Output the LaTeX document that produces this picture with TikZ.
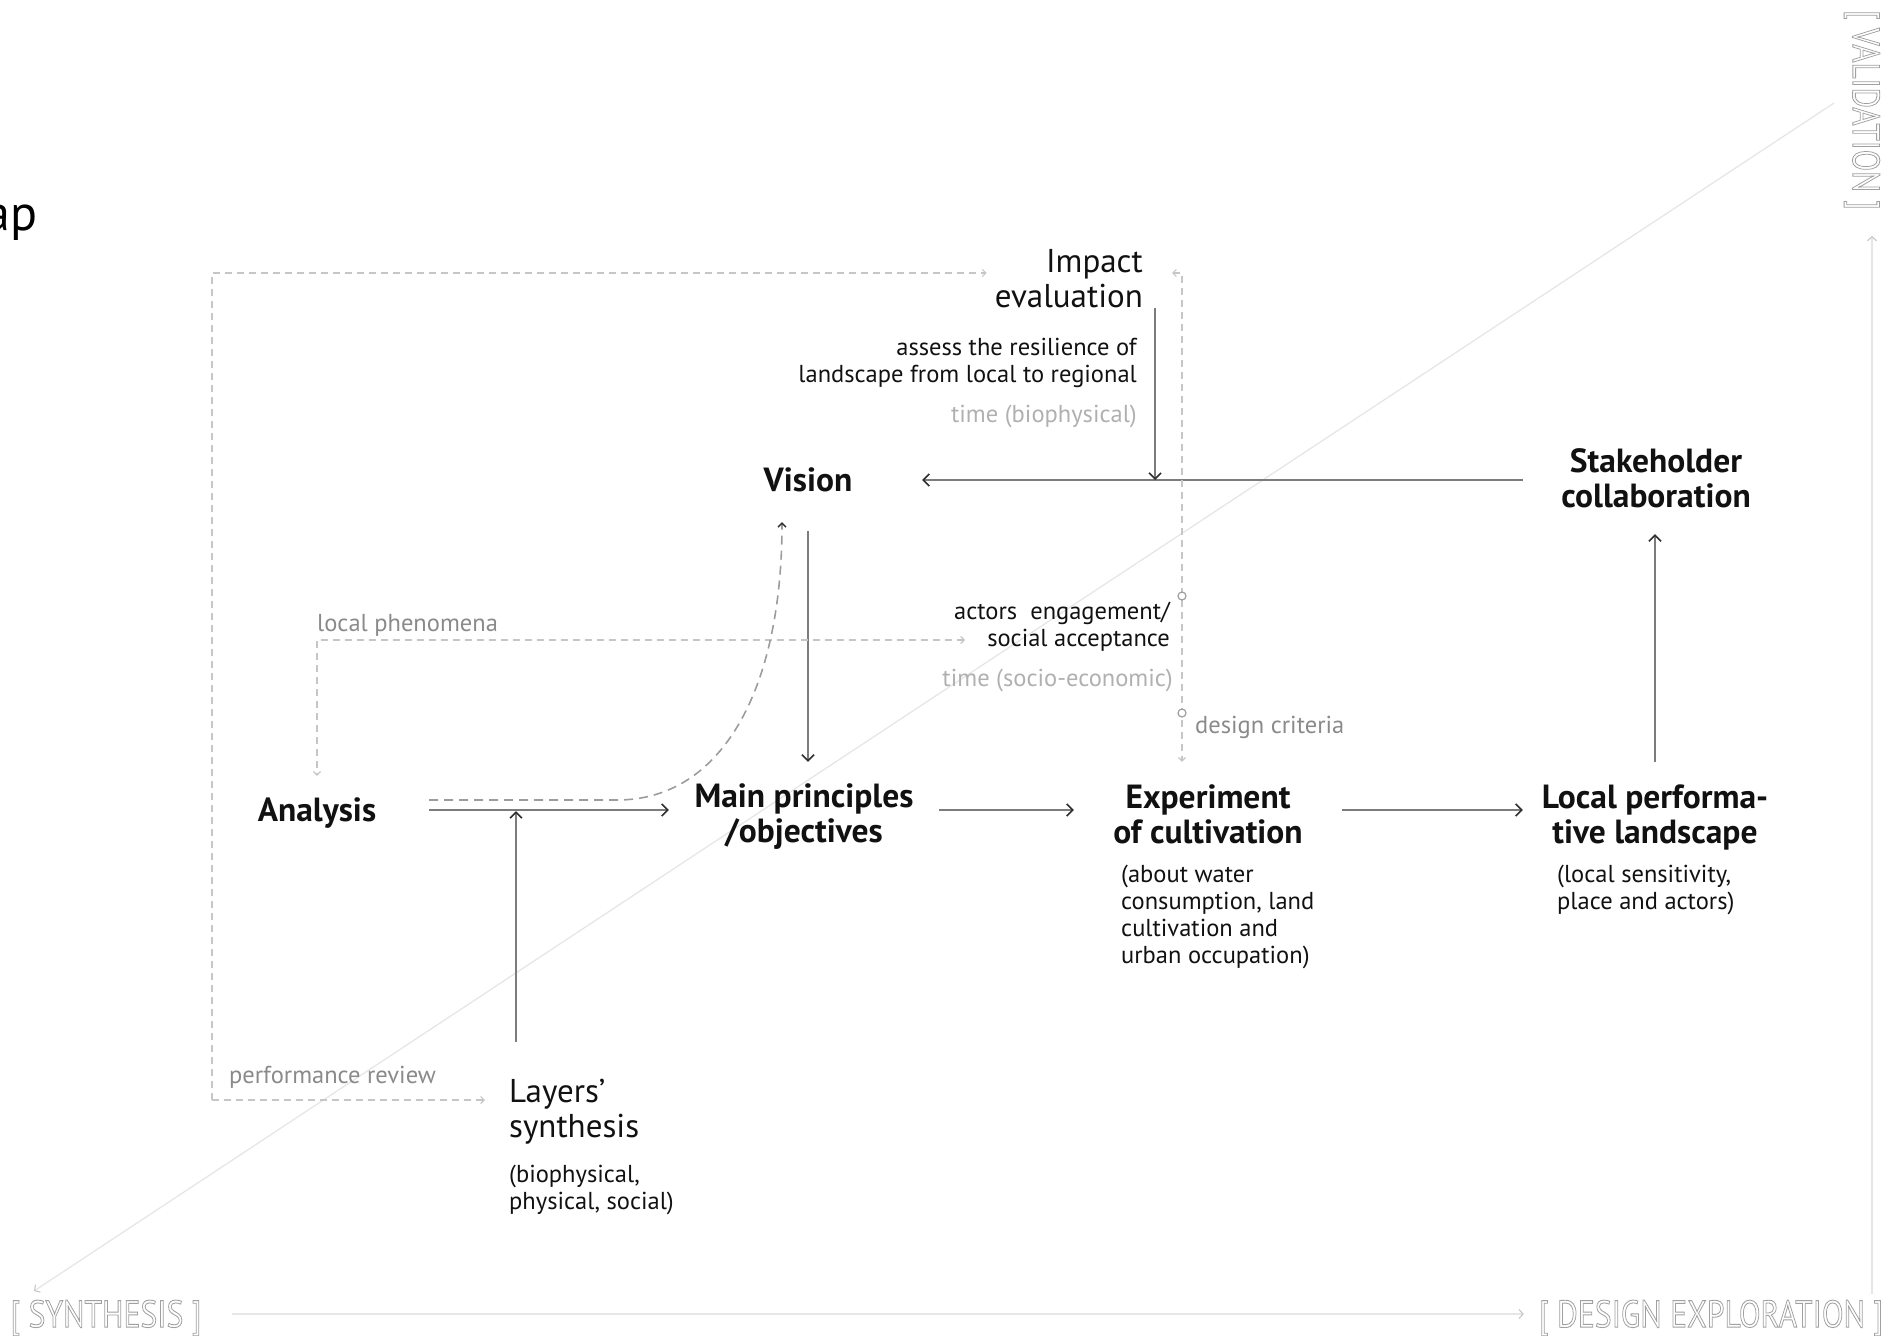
\documentclass[tikz,border=0pt]{standalone}
\usepackage{fontspec}
\usepackage{graphicx}
\setmainfont{PT Sans}
\usetikzlibrary{arrows.meta,calc}

\definecolor{ink}{HTML}{111111}
\definecolor{linegray}{HTML}{7C7C7C}
\definecolor{tipgray}{HTML}{2E2E2E}
\definecolor{dashgray}{HTML}{C6C6C6}
\definecolor{curvegray}{HTML}{9C9C9C}
\definecolor{labelgray}{HTML}{8A8A8A}
\definecolor{timegray}{HTML}{B0B0B0}
\definecolor{axisgray}{HTML}{E6E6E6}
\definecolor{stampgray}{HTML}{A0A0A0}

% outlined (stroke-only) lettering for the axis labels
\newcommand{\hollowtext}[1]{\special{pdf:literal direct 1 Tr 0.9 w}#1\special{pdf:literal direct 0 Tr}}

\begin{document}
\begin{tikzpicture}[x=1pt,y=-1pt,
  head/.style={font=\fontsize{33.5}{35}\selectfont\bfseries, text=ink, align=center, inner sep=0pt},
  plain/.style={font=\fontsize{33}{35}\selectfont, text=ink, inner sep=0pt},
  note/.style={font=\fontsize{24.5}{26.8}\selectfont, text=ink, inner sep=0pt},
  graynote/.style={note, text=labelgray},
  timenote/.style={note, text=timegray},
  stamp/.style={font=\fontsize{38}{38}\selectfont, text=stampgray, inner sep=0pt},
  flow/.style={draw=linegray, line width=2pt,
    -{Straight Barb[length=6pt,width=12pt,line width=1.6pt,color=tipgray]}},
  loopline/.style={draw=dashgray, line width=1.6pt, dash pattern=on 7pt off 5pt},
  looptip/.style={-{Straight Barb[length=3.5pt,width=7pt,line width=1.2pt]}},
  curveline/.style={draw=curvegray, line width=1.6pt, dash pattern=on 9pt off 6pt,
    -{Straight Barb[length=4pt,width=8pt,line width=1.3pt,color=tipgray]}},
  axis/.style={draw=axisgray, line width=1.3pt,
    -{Straight Barb[length=4pt,width=9pt,line width=1.1pt,color=black!22]}},
  knot/.style={draw=dashgray!80!black, fill=white, line width=1.2pt}
]
\useasboundingbox (0,0) rectangle (1896,1336);
\clip (0,0) rectangle (1896,1336);

% ---------- background axes ----------
\coordinate (diagTop) at (1834,103);
\coordinate (diagEnd) at (34,1291);
\draw[axis] (diagTop) -- (diagEnd);
\node[stamp] (syn) at (106,1318) {\scalebox{0.835}[1]{\hollowtext{[ SYNTHESIS ]}}};
\node[stamp] (dex) at (1711,1318) {\scalebox{0.835}[1]{\hollowtext{[ DESIGN EXPLORATION ]}}};
\node[stamp, rotate=-90] (val) at (1862,110) {\scalebox{0.82}[1]{\hollowtext{[ VALIDATION ]}}};
\draw[axis] ([xshift=30pt,yshift=4pt]syn.east) -- ([xshift=-15pt,yshift=4pt]dex.west);
\coordinate (vBot) at (1872,1294);
\coordinate (vTop) at (1872,236);
\draw[axis] (vBot) -- (vTop);

% ---------- title fragment ----------
\node[font=\fontsize{50}{50}\selectfont, text=black, anchor=base east, inner sep=0pt] (title) at (38,230) {ap};

% ---------- main nodes ----------
\node[head, minimum width=228pt, minimum height=102pt] (vis) at (808,480) {Vision};
\node[head, minimum width=266pt, minimum height=112pt] (stk) at (1656,478) {Stakeholder\\collaboration};
\node[head, minimum width=224pt, minimum height=74pt] (ana) at (317,813) {Analysis};
\node[head, minimum width=270pt, minimum height=110pt] (main) at (804,817) {Main principles\\/objectives};
\node[head, minimum width=268pt, minimum height=104pt] (exp) at (1208,814) {Experiment\\of cultivation};
\node[head, minimum width=264pt, minimum height=110pt] (loc) at (1655,817) {Local performa-\\tive landscape};

\node[plain, align=right, anchor=north east] (imp) at (1143,249) {Impact\\evaluation};
\node[plain, align=left, anchor=north west] (lay) at (509,1079) {Layers’\\synthesis};

% ---------- notes ----------
\node[note, align=right, anchor=north east] (assess) at (1137,338) {assess the resilience of\\landscape from local to regional};
\node[timenote, anchor=base east] (tbio) at (1137,422) {time (biophysical)};
\node[note, align=right, anchor=north east] (act) at (1170,602) {actors\ \ engagement/\\social acceptance};
\node[timenote, anchor=base east] (tsoc) at (1173,686) {time (socio-economic)};
\node[graynote, anchor=base west] (crit) at (1195,733) {design criteria};
\node[graynote, anchor=base west] (phenl) at (317,631) {local phenomena};
\node[graynote, anchor=base west] (perf) at (229,1083) {performance review};

\node[note, align=left, anchor=north west, font=\fontsize{24.5}{27}\selectfont] (expnote) at (1121,865) {(about water\\consumption, land\\cultivation and\\urban occupation)};
\node[note, align=left, anchor=north west] (locnote) at (1557,865) {(local sensitivity,\\place and actors)};
\node[note, align=left, anchor=north west] (laynote) at (509,1165) {(biophysical,\\physical, social)};

% ---------- solid flow ----------
\coordinate (flowL) at ([yshift=3pt]ana.east);
\draw[flow] (flowL) -- (flowL -| main.west);
\draw[flow] (flowL -| main.east) -- (flowL -| exp.west);
\draw[flow] (flowL -| exp.east) -- (flowL -| loc.west);
\draw[flow] (loc.north) -- (loc.north |- stk.south);
\draw[flow] (vis.east -| stk.west) -- (vis.east);
\draw[flow] (vis.south) -- (vis.south |- main.north);
\draw[flow] ([xshift=12pt]imp.south east) -- ([xshift=12pt]imp.south east |- vis.east);
\draw[flow, shorten >=-1pt] ([xshift=7pt,yshift=37pt]lay.north west) -- ([xshift=7pt,yshift=-2pt]lay.north west |- flowL);

% ---------- dashed feedback loops ----------
\coordinate (loopTL) at (212,273);
\coordinate (loopBL) at (212,1100);
\draw[loopline, looptip] (loopBL) -- (loopTL) -- ([xshift=-8pt]loopTL -| imp.west);
\draw[loopline, looptip] (loopBL) -- ([xshift=-24pt]loopBL -| lay.west);

\coordinate (critTop) at (1182,273);
\draw[loopline, {Straight Barb[length=3.5pt,width=7pt,line width=1.2pt]}-{Straight Barb[length=3.5pt,width=7pt,line width=1.2pt]}]
  ([xshift=-10pt]critTop) -- (critTop) -- (critTop |- exp.north);
\draw[knot] (1182,596) circle (4);
\draw[knot] (1182,713) circle (4);

\coordinate (phen) at (317,640);
\coordinate (phenEnd) at (965,640);
\draw[loopline, {Straight Barb[length=3.5pt,width=7pt,line width=1.2pt]}-{Straight Barb[length=3.5pt,width=7pt,line width=1.2pt]}]
  (phenEnd) -- (phen) -- (ana.north);

% ---------- dashed link from analysis up to the vision ----------
\draw[curveline] ([yshift=10pt]flowL) -- ++(188,0)
  .. controls +(103,0) and +(0,170) .. ([xshift=-26pt,yshift=9pt]vis.south);
\end{tikzpicture}
\end{document}
